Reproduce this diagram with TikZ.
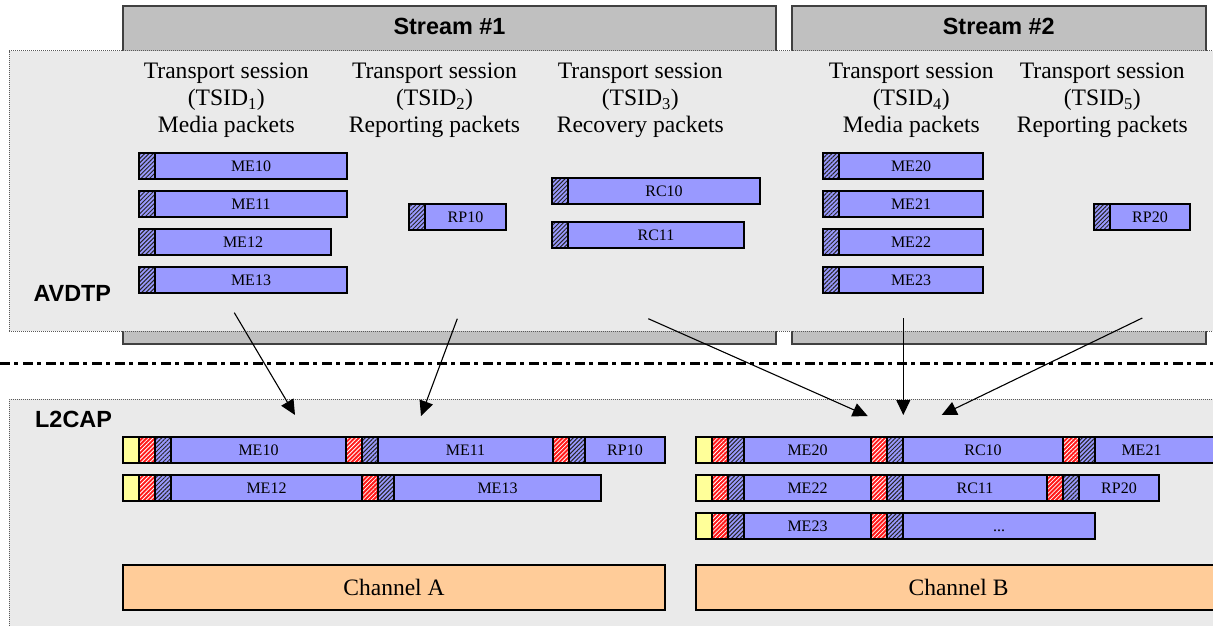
\documentclass[tikz,border=0pt]{standalone}
\usepackage{fontspec}
\setmainfont{Liberation Serif}
\newfontfamily\headfont{Liberation Sans}
\usetikzlibrary{arrows.meta,patterns.meta}
\definecolor{streamgray}{HTML}{C0C0C0}
\definecolor{layerfill}{HTML}{EAEAEA}
\definecolor{pblue}{HTML}{9999FF}
\definecolor{pyellow}{HTML}{FFFF99}
\definecolor{pred}{HTML}{FF1A1A}
\definecolor{chorange}{HTML}{FFCC99}
\definecolor{edgegray}{HTML}{404040}
\tikzset{
  streambox/.style={draw=edgegray, line width=1.6pt, fill=streamgray, anchor=north west, inner sep=0pt, outer sep=0pt},
  layerbox/.style={draw=black!65, line width=0.8pt, dash pattern=on 0.8pt off 1.2pt, fill=layerfill, anchor=north west, inner sep=0pt, outer sep=0pt},
  headtext/.style={font=\headfont\bfseries\fontsize{23.4}{26}\selectfont, inner sep=0pt},
  tstext/.style={font=\fontsize{23.6}{27}\selectfont, align=center, inner sep=0pt},
  celldim/.style={line width=1.2pt, anchor=north west, minimum height=26pt, inner sep=0pt, outer sep=0pt},
  body/.style={celldim, draw=black, fill=pblue, font=\fontsize{16}{18}\selectfont},
  pkttext/.style={font=\fontsize{16}{18}\selectfont, inner sep=0pt},
  hcell/.style={celldim, draw=black, minimum width=16pt, preaction={fill=pblue}, pattern={Lines[angle=45,distance=3pt,line width=1pt]}, pattern color=black!85},
  rcell/.style={celldim, draw=black, minimum width=16pt, preaction={fill=pred}, pattern={Lines[angle=45,distance=3pt,line width=0.8pt]}, pattern color=white},
  ycell/.style={celldim, draw=black, minimum width=16pt, fill=pyellow},
  chan/.style={draw=black, line width=1.5pt, fill=chorange, anchor=north west, minimum height=45pt, inner sep=0pt, outer sep=0pt, font=\fontsize{23.5}{26}\selectfont},
  arr/.style={-{Triangle[length=15pt,width=14pt]}, line width=1.1pt},
  sepline/.style={line width=2.5pt, dash pattern=on 10pt off 4pt on 4pt off 5pt}
}
\begin{document}
\begin{tikzpicture}[x=1pt,y=-1pt]
\clip (0,0) rectangle (1213,625);
\fill[white] (0,0) rectangle (1213,625);
% stream boxes
\node[streambox, minimum width=653pt, minimum height=338.5pt] (s1) at (123,5.7) {};
\node[streambox, minimum width=414.3pt, minimum height=338pt] (s2) at (791.7,5.7) {};
\node[headtext] (s1t) at (449.5,26.7) {Stream \#1};
\node[headtext] (s2t) at (998.8,26.7) {Stream \#2};
% AVDTP layer
\node[layerbox, minimum width=1240pt, minimum height=280.3pt] (avdtp) at (9.3,50.7) {};
\node[headtext, anchor=west] (avdtpt) at (33.3,293.3) {AVDTP};
\node[tstext] (ts1) at (226.3,100.6) {Transport session\\(TSID\textsubscript{1})\\Media packets};
\node[tstext] (ts2) at (434.5,100.6) {Transport session\\(TSID\textsubscript{2})\\Reporting packets};
\node[tstext] (ts3) at (640.3,100.6) {Transport session\\(TSID\textsubscript{3})\\Recovery packets};
\node[tstext] (ts4) at (911.3,100.6) {Transport session\\(TSID\textsubscript{4})\\Media packets};
\node[tstext] (ts5) at (1102.3,100.6) {Transport session\\(TSID\textsubscript{5})\\Reporting packets};
% AVDTP packets
\node[hcell] (a10h) at (139,153) {};
\node[body, minimum width=192pt] (a10) at (a10h.north east) {ME10};
\node[hcell] (a11h) at (139,191) {};
\node[body, minimum width=192pt] (a11) at (a11h.north east) {ME11};
\node[hcell] (a12h) at (139,229) {};
\node[body, minimum width=176pt] (a12) at (a12h.north east) {ME12};
\node[hcell] (a13h) at (139,267) {};
\node[body, minimum width=192pt] (a13) at (a13h.north east) {ME13};
\node[hcell] (arp10h) at (409,204) {};
\node[body, minimum width=81pt] (arp10) at (arp10h.north east) {RP10};
\node[hcell] (arc10h) at (552,178) {};
\node[body, minimum width=192pt] (arc10) at (arc10h.north east) {RC10};
\node[hcell] (arc11h) at (552,222) {};
\node[body, minimum width=176pt] (arc11) at (arc11h.north east) {RC11};
\node[hcell] (a20h) at (823,153) {};
\node[body, minimum width=144pt] (a20) at (a20h.north east) {ME20};
\node[hcell] (a21h) at (823,191) {};
\node[body, minimum width=144pt] (a21) at (a21h.north east) {ME21};
\node[hcell] (a22h) at (823,229) {};
\node[body, minimum width=144pt] (a22) at (a22h.north east) {ME22};
\node[hcell] (a23h) at (823,267) {};
\node[body, minimum width=144pt] (a23) at (a23h.north east) {ME23};
\node[hcell] (arp20h) at (1094,204) {};
\node[body, minimum width=80pt] (arp20) at (arp20h.north east) {RP20};
% separator
\coordinate (sepL) at (0,363.3);
\coordinate (sepR) at (1213,363.3);
\draw[sepline] (sepL) -- (sepR);
% L2CAP layer
\node[layerbox, minimum width=1240pt, minimum height=260pt] (l2cap) at (9.3,399) {};
\node[headtext, anchor=west] (l2capt) at (35,419) {L2CAP};
% left row 1
\node[ycell] (L1a) at (123,437) {};
\node[rcell] (L1b) at (L1a.north east) {};
\node[hcell] (L1c) at (L1b.north east) {};
\node[body, minimum width=175pt] (L1d) at (L1c.north east) {ME10};
\node[rcell] (L1e) at (L1d.north east) {};
\node[hcell] (L1f) at (L1e.north east) {};
\node[body, minimum width=175pt] (L1g) at (L1f.north east) {ME11};
\node[rcell] (L1h) at (L1g.north east) {};
\node[hcell] (L1i) at (L1h.north east) {};
\node[body, minimum width=80pt] (L1j) at (L1i.north east) {RP10};
% left row 2
\node[ycell] (L2a) at (123,475) {};
\node[rcell] (L2b) at (L2a.north east) {};
\node[hcell] (L2c) at (L2b.north east) {};
\node[body, minimum width=191pt] (L2d) at (L2c.north east) {ME12};
\node[rcell] (L2e) at (L2d.north east) {};
\node[hcell] (L2f) at (L2e.north east) {};
\node[body, minimum width=207pt] (L2g) at (L2f.north east) {ME13};
% right row 1
\node[ycell] (R1a) at (696,437) {};
\node[rcell] (R1b) at (R1a.north east) {};
\node[hcell] (R1c) at (R1b.north east) {};
\node[body, minimum width=127pt] (R1d) at (R1c.north east) {ME20};
\node[rcell] (R1e) at (R1d.north east) {};
\node[hcell] (R1f) at (R1e.north east) {};
\node[body, minimum width=160pt] (R1g) at (R1f.north east) {RC10};
\node[rcell] (R1h) at (R1g.north east) {};
\node[hcell] (R1i) at (R1h.north east) {};
\node[body, minimum width=140pt] (R1j) at (R1i.north east) {};
\node[pkttext] (R1jt) at (1141.5,450) {ME21};
% right row 2
\node[ycell] (R2a) at (696,475) {};
\node[rcell] (R2b) at (R2a.north east) {};
\node[hcell] (R2c) at (R2b.north east) {};
\node[body, minimum width=127pt] (R2d) at (R2c.north east) {ME22};
\node[rcell] (R2e) at (R2d.north east) {};
\node[hcell] (R2f) at (R2e.north east) {};
\node[body, minimum width=144pt] (R2g) at (R2f.north east) {RC11};
\node[rcell] (R2h) at (R2g.north east) {};
\node[hcell] (R2i) at (R2h.north east) {};
\node[body, minimum width=80pt] (R2j) at (R2i.north east) {RP20};
% right row 3
\node[ycell] (R3a) at (696,513) {};
\node[rcell] (R3b) at (R3a.north east) {};
\node[hcell] (R3c) at (R3b.north east) {};
\node[body, minimum width=127pt] (R3d) at (R3c.north east) {ME23};
\node[rcell] (R3e) at (R3d.north east) {};
\node[hcell] (R3f) at (R3e.north east) {};
\node[body, minimum width=192pt] (R3g) at (R3f.north east) {\vphantom{M}...};
% channels
\node[chan, minimum width=542pt] (chA) at (123,565) {Channel A};
\node[chan, minimum width=525pt] (chB) at (696,565) {Channel B};
% arrows
\coordinate (p1s) at (234.3,312.7); \coordinate (p1e) at (295,415);
\coordinate (p2s) at (457.3,318.7); \coordinate (p2e) at (421,416);
\coordinate (p3s) at (648.3,318.7); \coordinate (p3e) at (867.7,416);
\coordinate (p4s) at (903.3,318);   \coordinate (p4e) at (903.3,415);
\coordinate (p5s) at (1142.3,318);  \coordinate (p5e) at (941.7,415);
\draw[arr] (p1s) -- (p1e);
\draw[arr] (p2s) -- (p2e);
\draw[arr] (p3s) -- (p3e);
\draw[arr] (p4s) -- (p4e);
\draw[arr] (p5s) -- (p5e);
\end{tikzpicture}
\end{document}
